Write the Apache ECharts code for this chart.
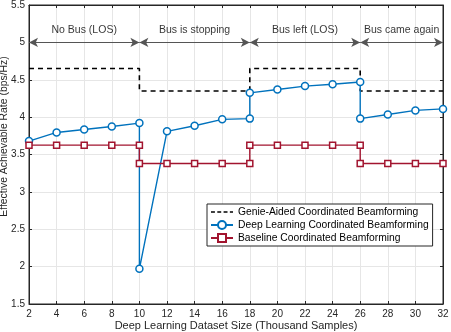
<!DOCTYPE html>
<html><head><meta charset="utf-8">
<script src="https://cdn.jsdelivr.net/npm/echarts@6/dist/echarts.min.js"></script>
<style>html,body{margin:0;padding:0;background:#fff}#c{width:451px;height:332px}</style>
</head><body><div id="c"></div>
<script>
// Genie-aided (step line)
const genieX = [2, 10, 10, 18, 18, 26, 26, 32];
const genieY = [4.65, 4.65, 4.35, 4.35, 4.65, 4.65, 4.35, 4.35];
// Deep learning
const dlX = [2, 4, 6, 8, 10, 10, 12, 14, 16, 18, 18, 20, 22, 24, 26, 26, 28, 30, 32];
const dlY = [3.68, 3.795, 3.835, 3.875, 3.92, 1.97, 3.81, 3.885, 3.97, 3.98, 4.325, 4.37, 4.415, 4.44, 4.47, 3.98, 4.035, 4.09, 4.11];
// Baseline
const blX = [2, 4, 6, 8, 10, 10, 12, 14, 16, 18, 18, 20, 22, 24, 26, 26, 28, 30, 32];
const blY = [3.625, 3.625, 3.625, 3.625, 3.625, 3.38, 3.38, 3.38, 3.38, 3.38, 3.625, 3.625, 3.625, 3.625, 3.625, 3.38, 3.38, 3.38, 3.38];
// Phase annotations
const phaseStart = [2, 10, 18, 26];
const phaseEnd = [10, 18, 26, 32];
const phaseLabels = ['No Bus (LOS)', 'Bus is stopping', 'Bus left (LOS)', 'Bus came again'];
const arrowY = 5.0;
const labelY = 5.17;
const seriesNames = ['Genie-Aided Coordinated Beamforming', 'Deep Learning Coordinated Beamforming', 'Baseline Coordinated Beamforming'];

const zip = (a, b) => a.map((v, i) => [v, b[i]]);
const FONT = '"Liberation Sans", Arial, sans-serif';
const TXT = '#262626';
const dashIcon = 'path://M0,4h5v2h-5z M8,4h5v2h-5z M16,4h5v2h-5z M24,4h4v2h-4z M0,0h0.01v0.01h-0.01z M0,10h0.01v0.01h-0.01z';
const tickStyle = {inside: true, length: 3, lineStyle: {color: '#262626'}};

const chart = echarts.init(document.getElementById('c'), null, {renderer: 'canvas'});
chart.setOption({
  animation: false,
  textStyle: {fontFamily: FONT},
  grid: {left: 29, right: 8, top: 5, bottom: 28, containLabel: false, outerBoundsMode: 'none',
    show: true, borderColor: '#262626', borderWidth: 1, backgroundColor: 'transparent'},
  xAxis: [{
    type: 'value', min: 2, max: 32, interval: 2,
    name: 'Deep Learning Dataset Size (Thousand Samples)', nameLocation: 'middle', nameGap: 16, nameMoveOverlap: false,
    nameTextStyle: {fontSize: 11, color: TXT, fontFamily: FONT},
    axisLine: {lineStyle: {color: '#262626'}},
    axisTick: tickStyle,
    axisLabel: {fontSize: 10, color: TXT, margin: 5, fontFamily: FONT},
    splitLine: {show: true, lineStyle: {color: '#e6e6e6', width: 1}}
  }, {
    type: 'value', position: 'top', min: 2, max: 32, interval: 2,
    axisLine: {lineStyle: {color: '#262626'}}, axisTick: tickStyle,
    axisLabel: {show: false}, splitLine: {show: false}
  }],
  yAxis: [{
    type: 'value', min: 1.5, max: 5.5, interval: 0.5,
    name: 'Effective Achievable Rate (bps/Hz)', nameLocation: 'middle', nameGap: 20, nameRotate: 90, nameMoveOverlap: false,
    nameTextStyle: {fontSize: 10.4, color: TXT, fontFamily: FONT, padding: [0, 0, 0, 36]},
    axisLine: {show: true, lineStyle: {color: '#262626'}},
    axisTick: Object.assign({show: true}, tickStyle),
    axisLabel: {fontSize: 10, color: TXT, margin: 4, fontFamily: FONT},
    splitLine: {show: true, lineStyle: {color: '#e6e6e6', width: 1}}
  }, {
    type: 'value', position: 'right', min: 1.5, max: 5.5, interval: 0.5,
    axisLine: {show: true, lineStyle: {color: '#262626'}}, axisTick: Object.assign({show: true}, tickStyle),
    axisLabel: {show: false}, splitLine: {show: false}
  }],
  legend: {
    orient: 'vertical', left: 207, top: 204,
    backgroundColor: '#fff', borderColor: '#262626', borderWidth: 1, borderRadius: 0,
    padding: [3, 4, 3, 3], itemGap: 3, itemWidth: 22, itemHeight: 10,
    textStyle: {fontSize: 10.3, color: '#000', fontFamily: FONT},
    data: [
      {name: seriesNames[0], icon: dashIcon, itemStyle: {color: '#000', borderWidth: 0}},
      {name: seriesNames[1]},
      {name: seriesNames[2]}
    ]
  },
  series: [
    {
      name: 'phases', type: 'line', data: [], silent: true,
      markLine: {
        silent: true, symbol: ['arrow', 'arrow'], symbolSize: [7, 9],
        lineStyle: {color: '#555', type: 'solid', width: 1},
        label: {show: false},
        data: phaseStart.map((s, i) => [{coord: [s, arrowY]}, {coord: [phaseEnd[i], arrowY]}])
      }
    },
    {
      name: 'phaseLabels', type: 'scatter', symbolSize: 0, silent: true,
      data: phaseStart.map((s, i) => ({value: [(s + phaseEnd[i]) / 2, labelY], name: phaseLabels[i]})),
      label: {show: true, position: 'inside', formatter: p => p.name, fontSize: 10.5, color: '#000', fontFamily: FONT}
    },
    {
      name: seriesNames[0], type: 'line', data: zip(genieX, genieY), showSymbol: false, symbol: 'none',
      lineStyle: {color: '#000', type: [5, 4], width: 1.6}, itemStyle: {color: '#000'}, z: 3
    },
    {
      name: seriesNames[1], type: 'line', data: zip(dlX, dlY), symbol: 'circle', symbolSize: 7,
      lineStyle: {color: '#0072BD', width: 1.4}, itemStyle: {color: '#fff', borderColor: '#0072BD', borderWidth: 1.5}, z: 4
    },
    {
      name: seriesNames[2], type: 'line', data: zip(blX, blY), symbol: 'rect', symbolSize: 6,
      lineStyle: {color: '#A2142F', width: 1.4}, itemStyle: {color: '#fff', borderColor: '#A2142F', borderWidth: 1.5}, z: 4
    }
  ]
});
</script></body></html>
